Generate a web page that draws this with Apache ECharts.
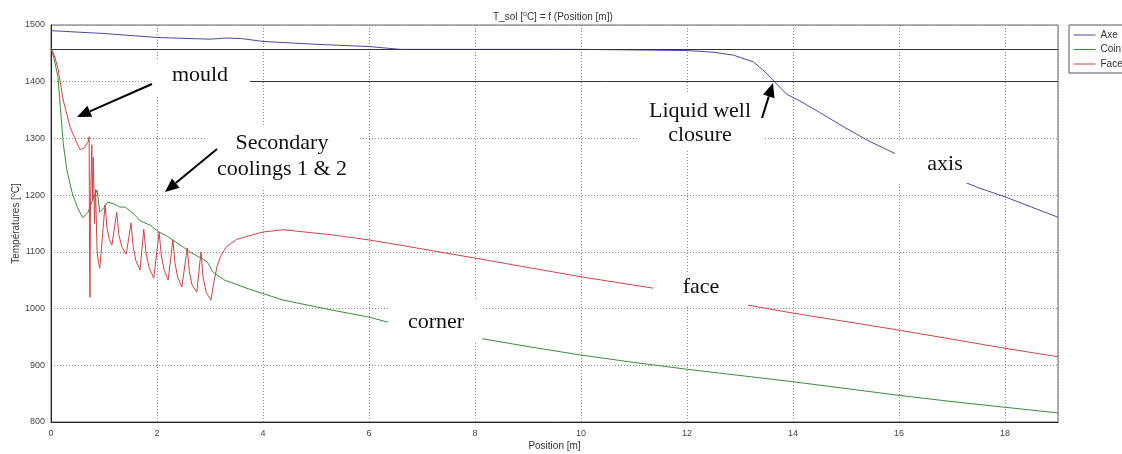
<!DOCTYPE html>
<html>
<head>
<meta charset="utf-8">
<script src="https://cdn.jsdelivr.net/npm/echarts@6/dist/echarts.min.js"></script>
<style>
  html, body { margin: 0; padding: 0; background: #fff; }
  #main { width: 1122px; height: 454px; }
</style>
</head>
<body>
<div id="main"></div>
<script>
// values
var seriesNames = ['Axe', 'Coin', 'Face'];

var axePos  = [0, 1, 2, 3, 3.3, 3.6, 4, 5, 6, 6.6, 8, 10, 12, 12.5, 12.87, 13.25, 13.43, 13.62, 13.88, 14.13, 14.5, 15, 15.4, 16, 16.5, 17, 17.5, 18, 18.5, 19];
var axeTemp = [1490, 1485, 1478, 1475, 1477, 1476, 1471, 1466, 1462, 1457, 1457, 1457, 1455, 1452, 1447, 1435, 1421, 1403, 1378, 1366, 1346, 1318, 1297, 1270, 1251, 1232, 1213, 1197, 1179, 1161];

var coinPos  = [0, 0.06, 0.13, 0.23, 0.3, 0.4, 0.5, 0.6, 0.7, 0.8, 0.87, 0.92, 1.0, 1.07, 1.2, 1.3, 1.4, 1.55, 1.68, 1.87, 2.04, 2.2, 2.36, 2.5, 2.62, 2.75, 2.87, 2.95, 3.06, 3.28, 3.75, 4.38, 5.32, 6, 6.36, 7, 8.19, 9, 10, 11, 12, 13, 14, 15, 16, 17, 18, 19];
var coinTemp = [1459, 1440, 1409, 1292, 1244, 1204, 1178, 1160, 1170, 1195, 1209, 1170, 1178, 1188, 1184, 1179, 1179, 1168, 1155, 1147, 1135, 1127, 1117, 1108, 1100, 1093, 1087, 1082, 1064, 1050, 1034, 1015, 997, 985, 976, 965, 946, 933, 918, 905, 893, 882, 871, 859, 847, 836, 826, 816];

var facePos  = [0, 0.06, 0.13, 0.23, 0.36, 0.49, 0.55, 0.62, 0.7, 0.72, 0.725, 0.735, 0.745, 0.77, 0.785, 0.8, 0.82, 0.84, 0.87, 0.9, 0.92,
                1.02, 1.06, 1.1, 1.15, 1.24, 1.28, 1.34, 1.42, 1.51, 1.55, 1.6, 1.68, 1.75, 1.79, 1.85, 1.94,
                2.04, 2.08, 2.13, 2.21, 2.3, 2.34, 2.39, 2.47, 2.57, 2.61, 2.66, 2.75, 2.83, 2.87, 2.93, 3.02,
                3.06, 3.13, 3.2, 3.3, 3.5, 4, 4.38, 5.3, 6, 6.58, 8, 10, 11.36, 12, 13.15, 14, 15, 16, 17, 18, 19];
var faceTemp = [1460, 1447, 1424, 1368, 1320, 1292, 1280, 1283, 1294, 1303, 1150, 1020, 1180, 1289, 1190, 1267, 1150, 1210, 1100, 1080, 1071,
                1183, 1140, 1122, 1112, 1170, 1130, 1108, 1096, 1151, 1110, 1085, 1068, 1140, 1100, 1072, 1054,
                1135, 1095, 1070, 1050, 1121, 1080, 1055, 1038, 1107, 1065, 1042, 1029, 1100, 1055, 1028, 1015,
                1040, 1073, 1092, 1108, 1122, 1135, 1139, 1130, 1121, 1112, 1089, 1056, 1036, 1025, 1006, 992, 977, 962, 946, 930, 915];

// horizontal reference lines: [temperature, from position, to position]
var refLines = [[1457, 0, 19], [1400, 2, 19]];

var xTicks = { min: 0, max: 19, interval: 2 };
var yTicks = { min: 800, max: 1500, interval: 100 };

function zip(a, b) {
  return a.map(function (v, i) { return [v, b[i]]; });
}

var serif = '"Liberation Serif", "Times New Roman", serif';
var sans = '"Liberation Sans", Arial, sans-serif';

// white label boxes pasted over the plot
function noteBox(x, y, w, h, lines, cx, ys) {
  var els = [{
    type: 'rect', shape: { x: x, y: y, width: w, height: h },
    style: { fill: '#fff' }, z: 100
  }];
  lines.forEach(function (t, i) {
    els.push({
      type: 'text', x: cx, y: ys[i], z: 101,
      style: { text: t, font: '22px ' + serif, fill: '#111', align: 'center', verticalAlign: 'middle' }
    });
  });
  return els;
}

function arrow(x1, y1, x2, y2) {
  var dx = x2 - x1, dy = y2 - y1;
  var len = Math.sqrt(dx * dx + dy * dy);
  var ux = dx / len, uy = dy / len;
  var hl = 14, hw = 6;
  var bx = x2 - ux * hl, by = y2 - uy * hl;
  return [{
    type: 'line', z: 102,
    shape: { x1: x1, y1: y1, x2: bx, y2: by },
    style: { stroke: '#000', lineWidth: 2 }
  }, {
    type: 'polygon', z: 102,
    shape: { points: [[x2, y2], [bx - uy * hw, by + ux * hw], [bx + uy * hw, by - ux * hw]] },
    style: { fill: '#000' }
  }];
}

var graphics = [].concat(
  noteBox(152, 60, 98, 35, ['mould'], 200, [75]),
  noteBox(207, 127, 151, 61, ['Secondary', 'coolings 1 & 2'], 282, [143, 169]),
  noteBox(637, 92, 128, 58, ['Liquid well', 'closure'], 700, [111, 135]),
  noteBox(895, 142, 95, 41, ['axis'], 945, [164]),
  noteBox(653, 273, 95, 33, ['face'], 701, [287]),
  noteBox(388, 300, 94, 43, ['corner'], 436, [322]),
  arrow(152, 84, 77, 117),
  arrow(217, 149, 165, 192),
  arrow(762, 118, 773, 83)
);

var chart = echarts.init(document.getElementById('main'));

chart.setOption({
  animation: false,
  backgroundColor: '#fff',
  color: ['#4a4aaa', '#3d8c3d', '#d04444'],
  title: {
    text: 'T_sol [{sup|o}C] = f (Position [m])',
    left: 493,
    top: 11,
    padding: 0,
    textStyle: {
      fontSize: 10, fontWeight: 'normal', color: '#333', fontFamily: sans,
      rich: { sup: { fontSize: 7, color: '#333', verticalAlign: 'top', lineHeight: 12 } }
    }
  },
  legend: {
    data: seriesNames,
    orient: 'vertical',
    left: 1069,
    top: 25,
    padding: [5, 5, 4, 4],
    itemWidth: 22,
    itemHeight: 10,
    itemGap: 4.5,
    borderColor: '#555',
    borderWidth: 1,
    borderRadius: 0,
    backgroundColor: '#fff',
    itemStyle: { opacity: 0 },
    lineStyle: { width: 1 },
    textStyle: { fontSize: 10, color: '#333', fontFamily: sans }
  },
  grid: {
    left: 51, right: 64, top: 25, bottom: 32,
    containLabel: false,
    outerBoundsMode: 'none',
    show: true, borderColor: '#666', borderWidth: 1
  },
  xAxis: {
    type: 'value',
    min: xTicks.min, max: xTicks.max, interval: xTicks.interval,
    name: 'Position [m]',
    nameLocation: 'middle',
    nameGap: 19,
    nameMoveOverlap: false,
    nameTextStyle: { fontSize: 10, color: '#333', fontFamily: sans },
    axisLine: { lineStyle: { color: '#222' } },
    axisTick: { show: false },
    axisLabel: { fontSize: 9, color: '#444', fontFamily: sans, margin: 7, showMaxLabel: false },
    splitLine: { show: true, lineStyle: { color: '#888', type: [1, 2] } }
  },
  yAxis: {
    type: 'value',
    min: yTicks.min, max: yTicks.max, interval: yTicks.interval,
    name: 'Températures [{sup|o}C]',
    nameLocation: 'middle',
    nameGap: 29,
    nameMoveOverlap: false,
    nameRotate: 90,
    nameTextStyle: {
      fontSize: 10, color: '#333', fontFamily: sans,
      rich: { sup: { fontSize: 7, color: '#333', verticalAlign: 'top', lineHeight: 12 } }
    },
    axisLine: { show: true, lineStyle: { color: '#222' } },
    axisTick: { show: false },
    axisLabel: {
      fontSize: 9, color: '#444', fontFamily: sans, margin: 6,
      formatter: function (v) { return String(v); }
    },
    splitLine: { show: true, lineStyle: { color: '#888', type: [1, 2] } }
  },
  series: [{
    name: 'Axe', type: 'line', symbol: 'none',
    lineStyle: { width: 1 },
    data: zip(axePos, axeTemp),
    markLine: {
      silent: true, symbol: 'none', label: { show: false },
      lineStyle: { color: '#333', type: 'solid', width: 1 },
      data: refLines.map(function (r) { return [{ coord: [r[1], r[0]] }, { coord: [r[2], r[0]] }]; })
    }
  }, {
    name: 'Coin', type: 'line', symbol: 'none',
    lineStyle: { width: 1 },
    data: zip(coinPos, coinTemp)
  }, {
    name: 'Face', type: 'line', symbol: 'none',
    lineStyle: { width: 1 },
    data: zip(facePos, faceTemp)
  }],
  graphic: graphics
});
</script>
</body>
</html>
